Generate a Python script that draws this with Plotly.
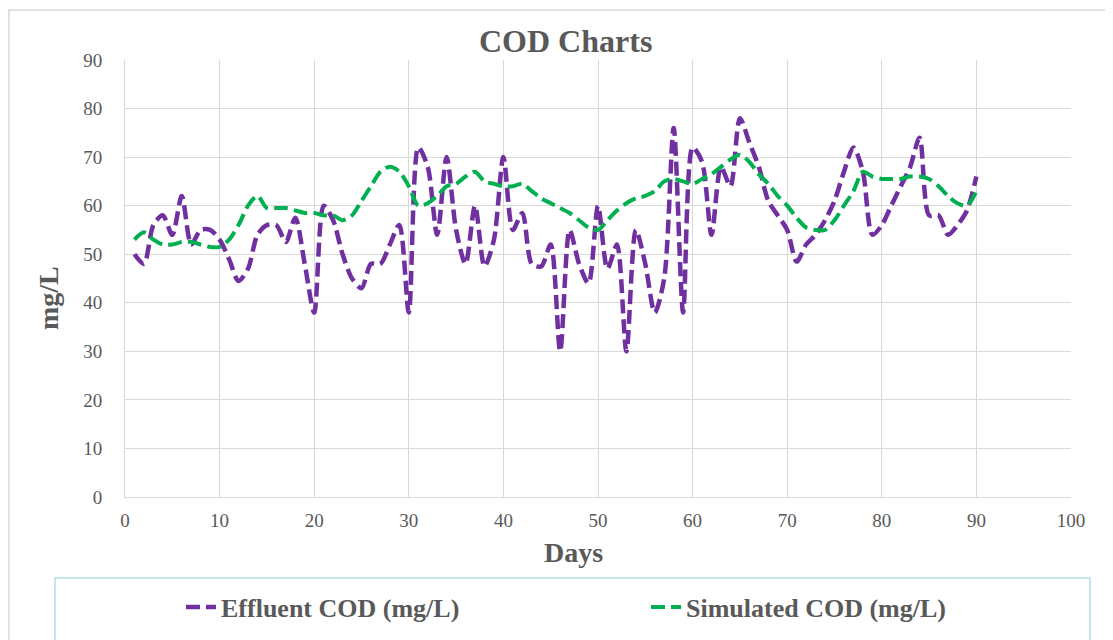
import plotly.graph_objects as go

days = list(range(1, 91))

effluent_cod = [
    50, 48, 56, 58, 54, 62, 52, 55, 55, 53,
    49, 44.5, 47, 54, 56, 56, 52.5, 57.5, 48, 38,
    60, 57, 50, 45, 43, 48, 48, 52, 56, 38,
    72, 68, 54, 70, 55, 48, 60, 47.5, 53, 70,
    55, 58.5, 48, 47.5, 52, 30, 55, 48, 44, 60,
    47, 52, 30, 55, 48, 38, 45, 76, 38, 72,
    69, 54, 68, 64, 78, 73, 68, 61, 58, 55,
    48.5, 52, 54, 57, 61, 67, 72, 67, 54, 56,
    60, 64, 68, 74, 58, 58, 54, 56, 59, 66,
]

simulated_cod = [
    53, 54.5, 53, 52, 52, 52.5, 52.5, 52, 51.5, 51.5,
    53, 56, 60, 62, 59.5, 59.5, 59.5, 59, 58.5, 58.5,
    58, 58, 57, 58, 61, 64, 67, 68, 67, 64,
    60, 60.5, 62, 64, 64.5, 66, 67, 65, 64.5, 64,
    64, 64.5, 63, 61.5, 60.5, 59.5, 58.5, 57, 55.5, 55,
    57, 59, 60.5, 61.5, 62, 63, 65, 65.5, 65, 64.5,
    65.5, 66.5, 68, 69.5, 70.5, 69, 66.5, 64.5, 62, 60,
    57.5, 55.5, 55, 55, 57, 60, 63, 67, 66, 65.5,
    65.5, 65.5, 66, 66, 65.5, 64, 62, 60.5, 60, 63,
]

series_names = ["Effluent COD (mg/L)", "Simulated COD (mg/L)"]
title_text = "COD Charts"
x_title = "Days"
y_title = "mg/L"

# page body has an 8px margin: shift everything by -8 px
OFF = 8
W, H = 1113 - OFF, 640 - OFF
L, R, T, B = 125 - OFF, 1071 - OFF, 60 - OFF, 497 - OFF
pw, ph = R - L, B - T

def px_x(x):
    return (x - OFF - L) / pw

def px_y(y):
    return (B - (y - OFF)) / ph

FONT = "Liberation Serif, Times New Roman, serif"
GRAY = "#595959"

fig = go.Figure()
fig.add_trace(go.Scatter(
    x=days, y=effluent_cod, mode="lines", name=series_names[0],
    line=dict(color="#7030a0", width=4.5, dash="14px,6px", shape="spline", smoothing=0.8),
))
fig.add_trace(go.Scatter(
    x=days, y=simulated_cod, mode="lines", name=series_names[1],
    line=dict(color="#00b050", width=4, dash="14px,6px", shape="spline", smoothing=0.8),
))

fig.update_layout(
    width=W, height=H,
    margin=dict(l=L, r=W - R, t=T, b=H - B, autoexpand=False),
    paper_bgcolor="white", plot_bgcolor="white",
    font=dict(family=FONT, color=GRAY),
    showlegend=True,
    legend=dict(
        orientation="h", x=px_x(181), xanchor="left", y=px_y(607), yanchor="middle",
        font=dict(family=FONT, size=26, color=GRAY, weight="bold"),
        entrywidth=420, entrywidthmode="pixels",
        bgcolor="rgba(0,0,0,0)",
    ),
)

fig.update_xaxes(
    range=[0, 100], dtick=10, tick0=0,
    showgrid=True, gridcolor="#d9d9d9", gridwidth=1,
    showline=True, linecolor="#d9d9d9", linewidth=1, mirror=False,
    zeroline=False, ticks="",
    tickfont=dict(family=FONT, size=19, color=GRAY),
    ticklabelstandoff=6,
)
fig.update_yaxes(
    range=[0, 90], dtick=10, tick0=0,
    showgrid=True, gridcolor="#d9d9d9", gridwidth=1,
    showline=True, linecolor="#d9d9d9", linewidth=1,
    zeroline=False, ticks="",
    tickfont=dict(family=FONT, size=19, color=GRAY),
    ticklabelstandoff=18,
)

# outer chart border and legend box
fig.add_shape(type="rect", xref="paper", yref="paper",
              x0=px_x(9), x1=px_x(1125), y0=px_y(660), y1=px_y(10),
              line=dict(color="#d9d9d9", width=1.5), layer="below")
fig.add_shape(type="rect", xref="paper", yref="paper",
              x0=px_x(55), x1=px_x(1090), y0=px_y(655), y1=px_y(578),
              line=dict(color="#b8dce8", width=1.5), layer="below")

fig.add_annotation(text=title_text, xref="paper", yref="paper",
                   x=px_x(565), y=px_y(41), showarrow=False,
                   xanchor="center", yanchor="middle",
                   font=dict(family=FONT, size=32, color=GRAY, weight="bold"))
fig.add_annotation(text=x_title, xref="paper", yref="paper",
                   x=px_x(573), y=px_y(552), showarrow=False,
                   xanchor="center", yanchor="middle",
                   font=dict(family=FONT, size=28, color=GRAY, weight="bold"))
fig.add_annotation(text=y_title, xref="paper", yref="paper",
                   x=px_x(48), y=px_y(298), showarrow=False, textangle=-90,
                   xanchor="center", yanchor="middle",
                   font=dict(family=FONT, size=28, color=GRAY, weight="bold"))

fig.write_html("out.html")
